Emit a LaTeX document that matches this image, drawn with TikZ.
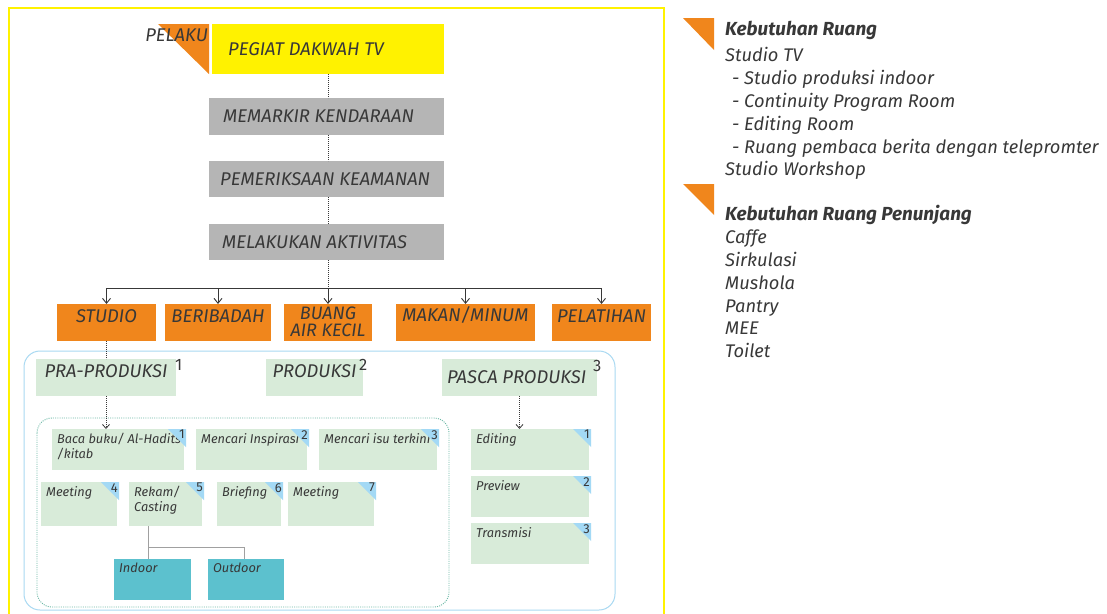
\documentclass[tikz,border=0pt]{standalone}
\usepackage{fontspec}
\setmainfont{Fira Sans}
\usetikzlibrary{arrows.meta,fit,calc}
\definecolor{ylw}{HTML}{FFF200}
\definecolor{org}{HTML}{F0861C}
\definecolor{gry}{HTML}{B5B5B5}
\definecolor{lgreen}{HTML}{D8EBD9}
\definecolor{ltri}{HTML}{A3D9F5}
\definecolor{tealbox}{HTML}{5CC1CE}
\definecolor{txt}{HTML}{383838}
\definecolor{frameblue}{HTML}{A9D9F2}
\definecolor{dotgreen}{HTML}{6CB9A6}
\definecolor{lnkgray}{HTML}{A0A0A0}
\newcommand\fszTop{\fontsize{18.4}{18}\selectfont}
\newcommand\fszSub{\fontsize{12.8}{15}\selectfont}
\newcommand\fszNum{\fontsize{13}{13}\selectfont}
\newcommand\fszR{\fontsize{18.3}{20}\selectfont}
\newcommand\subbx[8]{%
  \node[bx, fill=#6, fit={(#2,#3) (#4,#5)}] (#1) {};
  \node[sublbl, anchor=north west] (#1t) at ([shift={(5pt,-4pt)}]#1.north west) {#7};
}
\newcommand\subtri[2]{%
  \fill[ltri] ([xshift=-16pt]#1.north east) -- ([xshift=2pt]#1.north east) -- ([shift={(2pt,-18pt)}]#1.north east) -- cycle;
  \node[numlbl, anchor=north east] (#1n) at ([shift={(1pt,-1pt)}]#1.north east) {#2};
}
\begin{document}
\begin{tikzpicture}[x=1pt,y=-1pt,
  bx/.style={inner sep=0pt, outer sep=0pt},
  lbl/.style={inner sep=0pt, text=txt, font=\itshape\fszTop},
  sublbl/.style={inner sep=0pt, text=txt, font=\itshape\fszSub, align=left},
  numlbl/.style={inner sep=0pt, text=txt, font=\fszNum},
  suplbl/.style={inner sep=0pt, text=txt, font=\fontsize{16.5}{16.5}\selectfont},
  rt/.style={inner sep=0pt, text=txt, anchor=base west, font=\itshape\fszR},
  rtb/.style={rt, font=\bfseries\itshape\fontsize{18.9}{20}\selectfont},
  dotl/.style={draw=txt, line width=0.8pt, dash pattern=on 0.8pt off 1.2pt},
  conn/.style={draw=txt, line width=0.9pt},
  arr/.style={conn, -{Straight Barb[length=5pt,width=8pt]}},
  darr/.style={dotl, -{Straight Barb[length=4pt,width=7pt]}},
]
\useasboundingbox (0,0) rectangle (1107,613);
\fill[white] (0,0) rectangle (1107,613);

% yellow frame
\draw[ylw, line width=2pt] (9,616) -- (9,8) -- (664,8) -- (664,616);

% top chain
\fill[org] (158,24) -- (209,24) -- (209,74) -- cycle;
\node[inner sep=0pt, text=txt, font=\itshape\fszTop, anchor=east] (pelaku) at (208,35) {PELAKU};

\node[bx, fill=ylw, fit={(212,24) (444,74)}] (top) {};
\node[lbl, anchor=west] (topt) at ([xshift=16pt]top.west) {PEGIAT DAKWAH TV};

\node[bx, fill=gry, fit={(209,98) (444,135)}] (mem) {};
\node[lbl, anchor=west] (memt) at ([xshift=14pt]mem.west) {MEMARKIR KENDARAAN};

\node[bx, fill=gry, fit={(209,161) (444,197)}] (pem) {};
\node[lbl, anchor=west] (pemt) at ([xshift=11pt]pem.west) {PEMERIKSAAN KEAMANAN};

\node[bx, fill=gry, fit={(209,224) (444,260)}] (mel) {};
\node[lbl, anchor=west] (melt) at ([xshift=13pt]mel.west) {MELAKUKAN AKTIVITAS};

\draw[dotl] (top.south) -- (top.south |- mem.north);
\draw[dotl] (mem.south -| top.south) -- (top.south |- pem.north);
\draw[dotl] (pem.south -| top.south) -- (top.south |- mel.north);

% activity boxes
\node[bx, fill=org, fit={(57,304) (156,341)}, lbl] (studio) {STUDIO};
\node[bx, fill=org, fit={(165,304) (271,341)}, lbl] (berib) {BERIBADAH};
\node[bx, fill=org, fit={(284,304) (372,341)}] (buang) {};
\node[lbl, align=center, font=\itshape\fontsize{18}{16.5}\selectfont] (buangt) at ([yshift=0.5pt]buang.center) {BUANG\\AIR KECIL};
\node[bx, fill=org, fit={(396,304) (535,341)}, lbl] (makan) {MAKAN/MINUM};
\node[bx, fill=org, fit={(552,304) (651,341)}, lbl] (pelat) {PELATIHAN};

\coordinate (bar) at (0,288);
\draw[dotl] (mel.south -| top.south) -- (top.south |- bar);
\draw[conn] (studio.north |- bar) -- (pelat.north |- bar);
\draw[arr] (studio.north |- bar) -- (studio.north);
\draw[arr] (berib.north |- bar) -- (berib.north);
\draw[arr] (buang.north |- bar) -- (buang.north);
\draw[arr] (makan.north |- bar) -- (makan.north);
\draw[arr] (pelat.north |- bar) -- (pelat.north);

% studio frame
\draw[frameblue, line width=1pt, rounded corners=16pt] (24,351) rectangle (615,610);
\draw[dotgreen, line width=0.9pt, dash pattern=on 1pt off 1.2pt, rounded corners=15pt] (37,418) rectangle (449,607);

% phases
\node[bx, fill=lgreen, fit={(36,359) (176,396)}, lbl] (pra) {PRA-PRODUKSI};
\node[bx, fill=lgreen, fit={(266,359) (363,396)}, lbl] (prod) {PRODUKSI};
\node[bx, fill=lgreen, fit={(442,359) (597,396)}] (pasca) {};
\node[lbl, anchor=west] (pascat) at ([xshift=5pt]pasca.west) {PASCA PRODUKSI};
\node[suplbl, anchor=north west] (pran) at ([shift={(-1pt,0pt)}]pra.north east) {1};
\node[suplbl, anchor=north west] (prodn) at ([shift={(-4pt,0pt)}]prod.north east) {2};
\node[suplbl, anchor=north west] (pascan) at ([shift={(-4pt,-1pt)}]pasca.north east) {3};

\draw[dotl] (studio.south) -- (studio.south |- pra.north);

% pra-produksi items
\subbx{baca}{52}{429}{184}{470}{lgreen}{Baca buku/ Al-Hadits\\/kitab}{1}
\subbx{insp}{196}{429}{307}{470}{lgreen}{Mencari Inspirasi}{2}
\subbx{isu}{319}{429}{437}{470}{lgreen}{Mencari isu terkini}{3}
\subbx{meeta}{41}{482}{117}{526}{lgreen}{Meeting}{4}
\subbx{rekam}{129}{482}{202}{526}{lgreen}{Rekam/\\Casting}{5}
\subbx{brief}{217}{482}{281}{526}{lgreen}{Briefing}{6}
\subbx{meetb}{288}{482}{374}{526}{lgreen}{Meeting}{7}
\subtri{baca}{1}
\subtri{insp}{2}
\subtri{isu}{3}
\subtri{meeta}{4}
\subtri{rekam}{5}
\subtri{brief}{6}
\subtri{meetb}{7}

\subbx{indoor}{114}{559}{191}{600}{tealbox}{Indoor}{}
\subbx{outdoor}{208}{559}{284}{600}{tealbox}{Outdoor}{}
\coordinate (split) at (0,547);
\draw[lnkgray, line width=0.9pt] ([xshift=-4pt]indoor.north |- rekam.south) -- ([xshift=-4pt]indoor.north);
\draw[lnkgray, line width=0.9pt] ([xshift=-4pt]indoor.north |- split) -| ([xshift=-2pt]outdoor.north);

\draw[darr] (pra.south) -- (pra.south |- baca.north);

% pasca items
\subbx{edit}{471}{429}{589}{470}{lgreen}{Editing}{1}
\subbx{prev}{471}{476}{589}{517}{lgreen}{Preview}{2}
\subbx{trans}{471}{523}{589}{564}{lgreen}{Transmisi}{3}
\subtri{edit}{1}
\subtri{prev}{2}
\subtri{trans}{3}
\draw[darr] (pasca.south) -- (pasca.south |- edit.north);

% right column
\fill[org] (683,18) -- (714,18) -- (714,50) -- cycle;
\fill[org] (683,184) -- (714,184) -- (714,215) -- cycle;
\node[rtb] (r1) at (725,35) {Kebutuhan Ruang};
\node[rt] (r2) at (725,61.5) {Studio TV};
\node[rt] (r3) at (732,84) {- Studio produksi indoor};
\node[rt] (r4) at (732,107) {- Continuity Program Room};
\node[rt] (r5) at (732,130) {- Editing Room};
\node[rt] (r6) at (732,153) {- Ruang pembaca berita dengan telepromter};
\node[rt] (r7) at (725,175.5) {Studio Workshop};
\node[rtb] (r8) at (725,220) {Kebutuhan Ruang Penunjang};
\node[rt] (r9) at (725,243) {Caffe};
\node[rt] (r10) at (725,266) {Sirkulasi};
\node[rt] (r11) at (725,289) {Mushola};
\node[rt] (r12) at (725,312) {Pantry};
\node[rt] (r13) at (725,334.5) {MEE};
\node[rt] (r14) at (725,357) {Toilet};
\end{tikzpicture}
\end{document}
